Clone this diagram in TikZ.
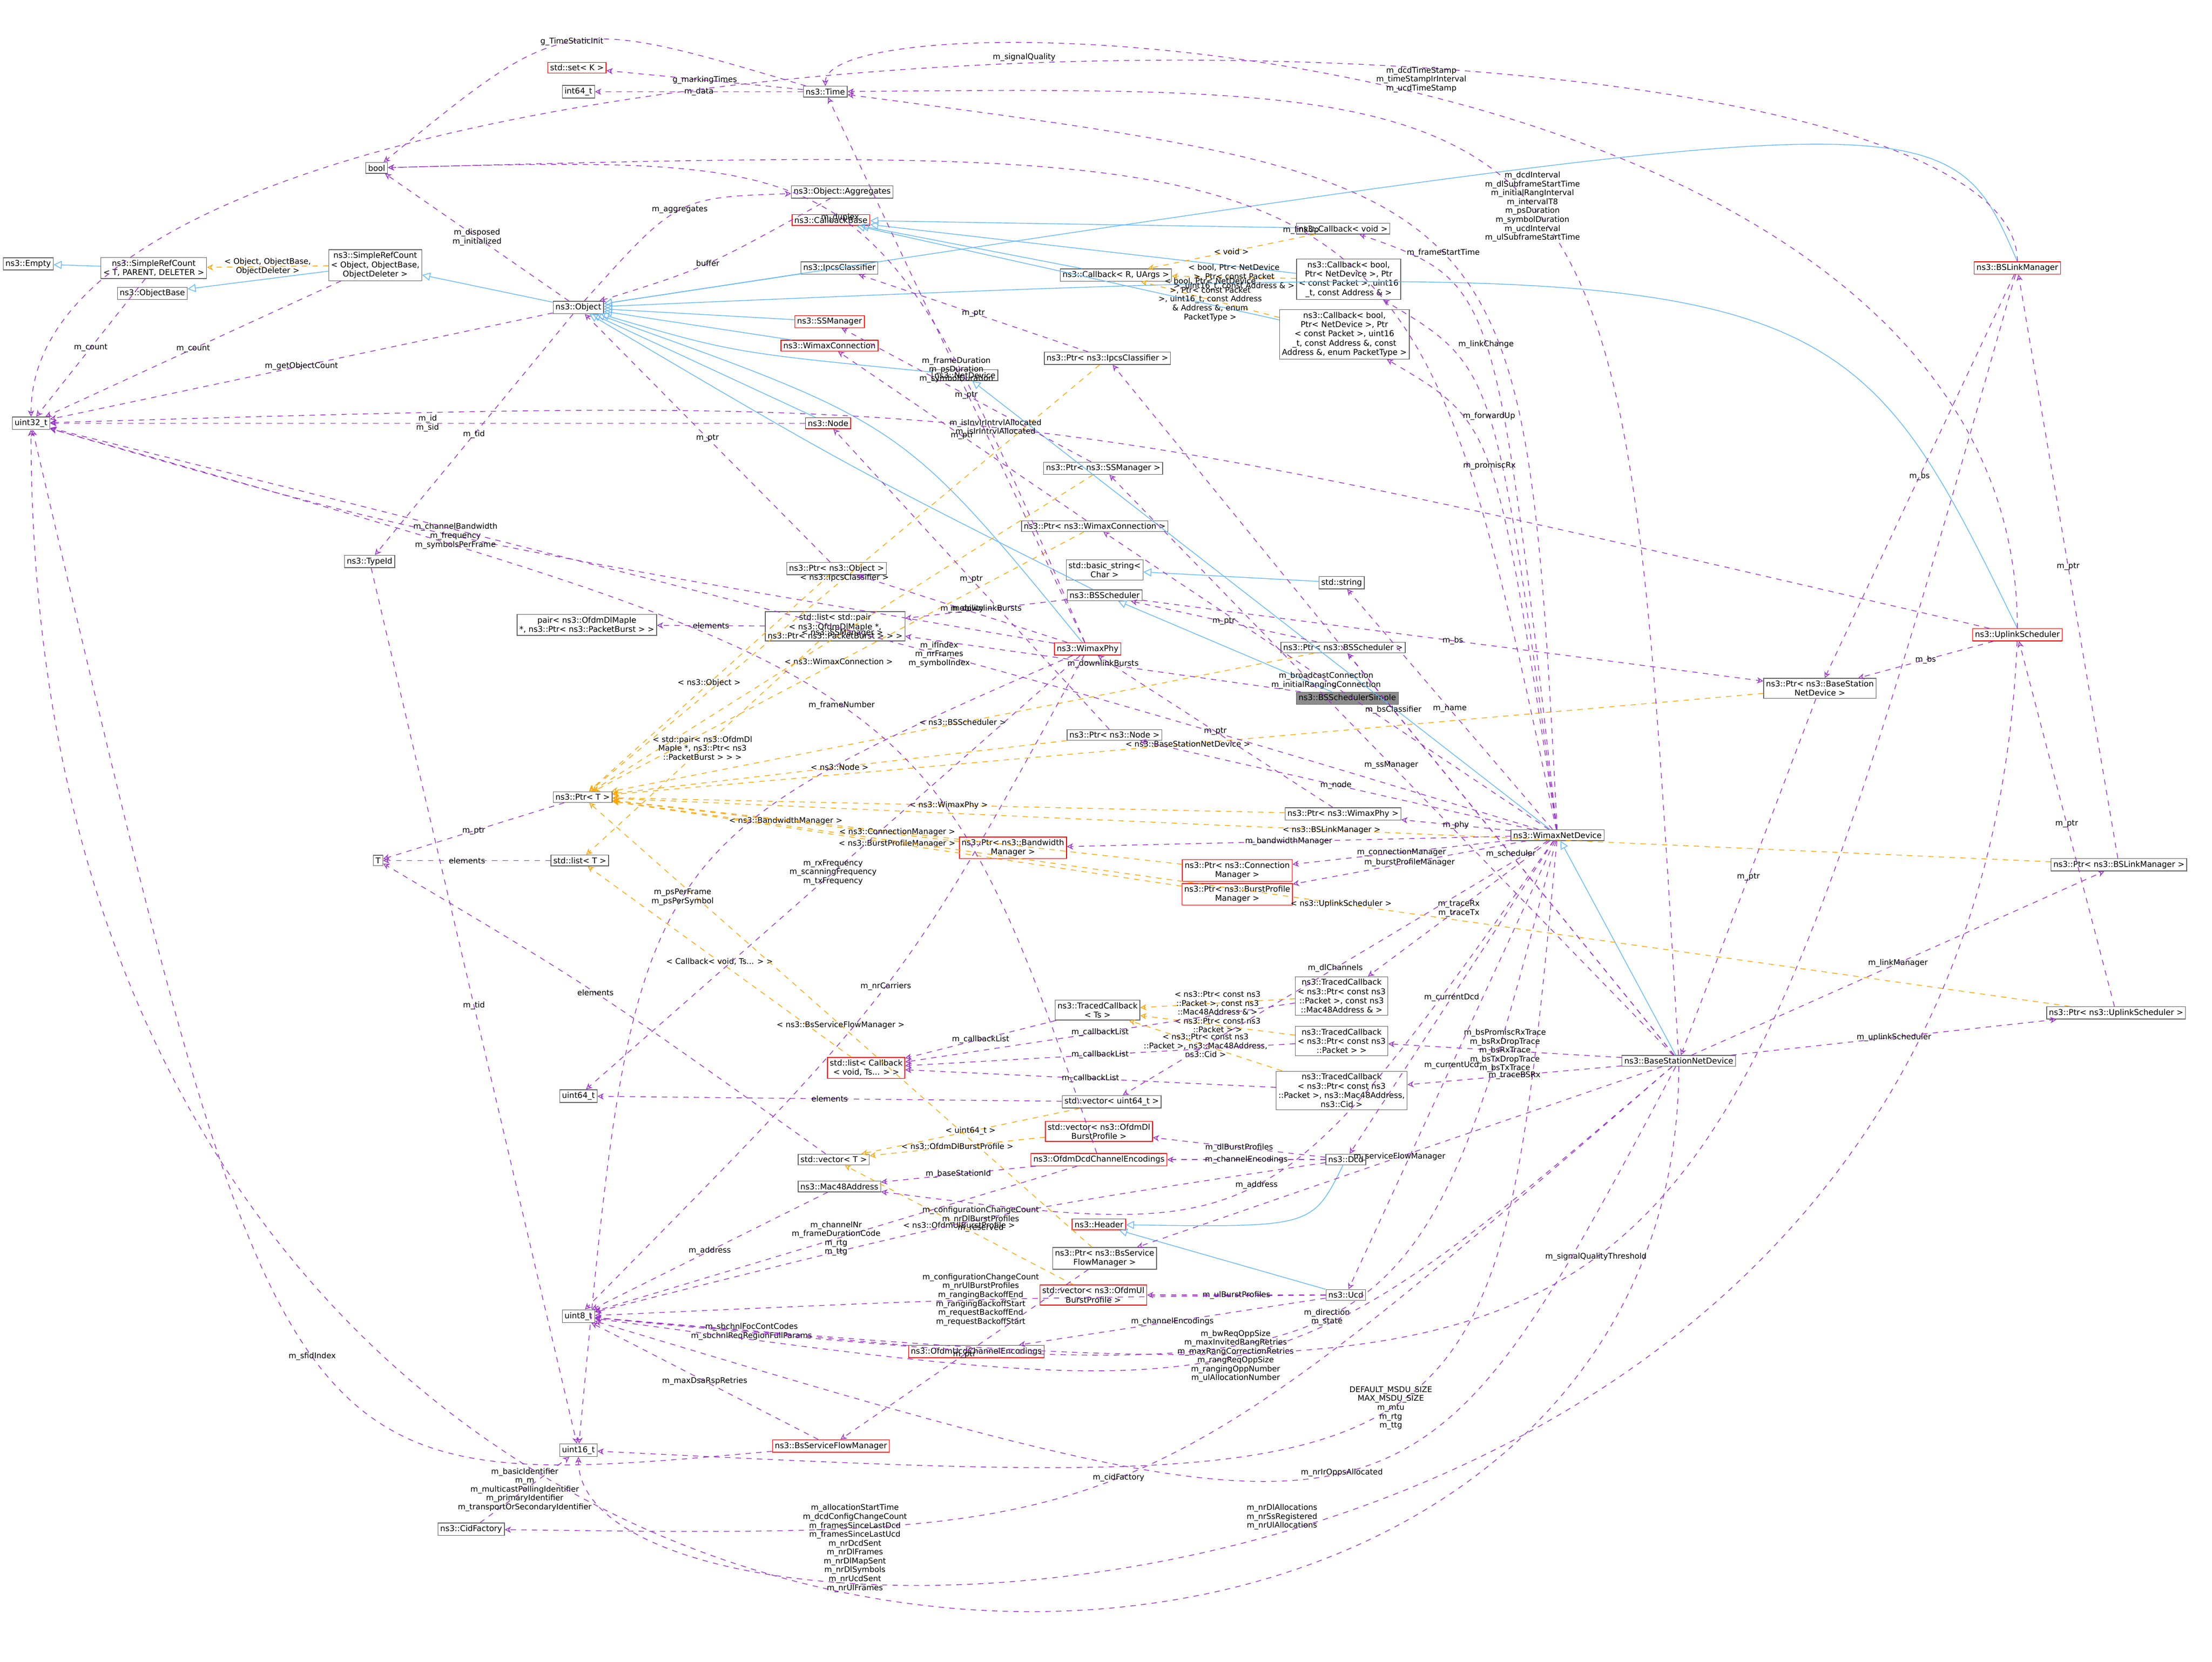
\documentclass[tikz,border=0pt]{standalone}
\usepackage{fontspec}
\setmainfont{DejaVu Sans}
\usetikzlibrary{arrows.meta}
\definecolor{usec}{HTML}{9A32CD}
\definecolor{inhc}{HTML}{63B8FF}
\definecolor{tplc}{HTML}{FFA500}
\tikzset{
 cls/.style={draw=black!60,fill=white,rectangle,inner sep=1.3pt,align=center,font=\fontsize{4.5}{5.2}\selectfont},
 redc/.style={cls,draw=red},
 use/.style={draw=usec,dashed,-{Stealth[open,length=3.5pt,width=3.5pt]}},
 inh/.style={draw=inhc,-{Triangle[open,length=4.5pt,width=4.5pt]}},
 tpl/.style={draw=tplc,dashed,-{Stealth[open,length=3.5pt,width=3.5pt]}},
 lbl/.style={align=center,font=\fontsize{4.4}{5}\selectfont,inner sep=1pt}
}
\newcommand\U[3]{\draw[use] (#1) -- node[lbl]{#3} (#2);}
\newcommand\UV[4]{\draw[use] (#1) .. controls (#2) .. node[lbl]{#4} (#3);}
\newcommand\UW[5]{\draw[use] (#1) .. controls (#2) and (#3) .. node[lbl,above]{#5} (#4);}
\newcommand\I[2]{\draw[inh] (#1) -- (#2);}
\newcommand\IV[3]{\draw[inh] (#1) .. controls (#2) .. (#3);}
\newcommand\Tp[3]{\draw[tpl] (#1) -- node[lbl]{#3} (#2);}
\begin{document}
\begin{tikzpicture}[x=0.0279cm,y=-0.0279cm]
\useasboundingbox[fill=white] (0,0) rectangle (1568,1178);
\node[cls] (empty) at (20,187) {ns3::Empty};
\node[cls] (srct) at (109,190) {ns3::SimpleRefCount\\< T, PARENT, DELETER >};
\node[cls] (objbase) at (108,208) {ns3::ObjectBase};
\node[cls] (srco) at (266,188) {ns3::SimpleRefCount\\< Object, ObjectBase,\\ ObjectDeleter >};
\node[cls] (bool) at (267,119) {bool};
\node[cls] (aggr) at (597,136) {ns3::Object::Aggregates};
\node[cls] (obj) at (410,218) {ns3::Object};
\node[cls] (time) at (585,65) {ns3::Time};
\node[redc] (set) at (409,48) {std::set< K >};
\node[cls] (i64) at (410,65) {int64\_t};
\node[redc] (cbb) at (589,156) {ns3::CallbackBase};
\node[cls] (ipcs) at (595,190) {ns3::IpcsClassifier};
\node[redc] (ssm) at (588,228) {ns3::SSManager};
\node[redc] (wcon) at (588,245) {ns3::WimaxConnection};
\node[cls] (netdev) at (684,266) {ns3::NetDevice};
\node[redc] (node) at (587,300) {ns3::Node};
\node[cls] (u32) at (22,300) {uint32\_t};
\node[cls] (tid) at (262,398) {ns3::TypeId};
\node[cls] (pobj) at (593,403) {ns3::Ptr< ns3::Object >};
\node[cls] (pair) at (416,443) {pair< ns3::OfdmDlMapIe\\ *, ns3::Ptr< ns3::PacketBurst > >};
\node[cls] (lpair) at (592,444) {std::list< std::pair\\ < ns3::OfdmDlMapIe *,\\ ns3::Ptr< ns3::PacketBurst > > >};
\node[cls] (ptrt) at (413,565) {ns3::Ptr< T >};
\node[cls] (T) at (268,610) {T};
\node[cls] (listt) at (411,610) {std::list< T >};
\node[cls] (u64) at (410,777) {uint64\_t};
\node[cls] (vect) at (591,822) {std::vector< T >};
\node[cls] (mac) at (595,841) {ns3::Mac48Address};
\node[cls] (u8) at (410,933) {uint8\_t};
\node[cls] (u16) at (410,1028) {uint16\_t};
\node[cls] (cidf) at (334,1084) {ns3::CidFactory};
\node[redc] (bssfm) at (589,1025) {ns3::BsServiceFlowManager};
\node[redc] (ucdenc) at (692,958) {ns3::OfdmUcdChannelEncodings};
\node[redc] (vul) at (775,918) {std::vector< ns3::OfdmUl\\ BurstProfile >};
\node[cls] (pbssfm) at (783,892) {ns3::Ptr< ns3::BsService\\ FlowManager >};
\node[redc] (hdr) at (779,868) {ns3::Header};
\node[redc] (dcdenc) at (779,822) {ns3::OfdmDcdChannelEncodings};
\node[redc] (vdl) at (779,802) {std::vector< ns3::OfdmDl\\ BurstProfile >};
\node[cls] (vu64) at (788,781) {std::vector< uint64\_t >};
\node[redc] (lcb) at (614,757) {std::list< Callback\\ < void, Ts... > >};
\node[cls] (tcts) at (778,716) {ns3::TracedCallback\\ < Ts >};
\node[redc] (pbw) at (718,601) {ns3::Ptr< ns3::Bandwidth\\ Manager >};
\node[redc] (pcm) at (877,617) {ns3::Ptr< ns3::Connection\\ Manager >};
\node[redc] (pbpm) at (877,634) {ns3::Ptr< ns3::BurstProfile\\ Manager >};
\node[redc] (phy) at (771,460) {ns3::WimaxPhy};
\node[cls] (pnode) at (790,521) {ns3::Ptr< ns3::Node >};
\node[cls] (bss) at (783,422) {ns3::BSScheduler};
\node[cls] (bstr) at (783,404) {std::basic\_string<\\ Char >};
\node[cls] (str) at (951,413) {std::string};
\node[cls] (pwcon) at (776,373) {ns3::Ptr< ns3::WimaxConnection >};
\node[cls] (pssm) at (782,332) {ns3::Ptr< ns3::SSManager >};
\node[cls] (pipcs) at (785,254) {ns3::Ptr< ns3::IpcsClassifier >};
\node[cls] (cbr) at (791,195) {ns3::Callback< R, UArgs >};
\node[cls] (cbv) at (952,162) {ns3::Callback< void >};
\node[cls] (cbb5) at (956,198) {ns3::Callback< bool,\\ Ptr< NetDevice >, Ptr\\ < const Packet >, uint16\\ \_t, const Address \& >};
\node[cls] (cbb7) at (953,237) {ns3::Callback< bool,\\ Ptr< NetDevice >, Ptr\\ < const Packet >, uint16\\ \_t, const Address \&, const\\ Address \&, enum PacketType >};
\node[cls,fill=black!45] (bsss) at (955,495) {ns3::BSSchedulerSimple};
\node[cls] (pbss) at (952,459) {ns3::Ptr< ns3::BSScheduler >};
\node[cls] (pphy) at (952,577) {ns3::Ptr< ns3::WimaxPhy >};
\node[cls] (wnd) at (1104,592) {ns3::WimaxNetDevice};
\node[cls] (tc1) at (951,706) {ns3::TracedCallback\\ < ns3::Ptr< const ns3\\ ::Packet >, const ns3\\ ::Mac48Address \& >};
\node[cls] (tc2) at (951,738) {ns3::TracedCallback\\ < ns3::Ptr< const ns3\\ ::Packet > >};
\node[cls] (tc3) at (951,773) {ns3::TracedCallback\\ < ns3::Ptr< const ns3\\ ::Packet >, ns3::Mac48Address,\\ ns3::Cid >};
\node[cls] (dcd) at (954,822) {ns3::Dcd};
\node[cls] (ucd) at (954,918) {ns3::Ucd};
\node[cls] (bsnd) at (1190,752) {ns3::BaseStationNetDevice};
\node[cls] (pbsnd) at (1290,488) {ns3::Ptr< ns3::BaseStation\\ NetDevice >};
\node[redc] (bslm) at (1430,190) {ns3::BSLinkManager};
\node[redc] (ulsch) at (1430,450) {ns3::UplinkScheduler};
\node[cls] (pbslm) at (1502,613) {ns3::Ptr< ns3::BSLinkManager >};
\node[cls] (pulsch) at (1500,718) {ns3::Ptr< ns3::UplinkScheduler >};
% inheritance
\I{srct}{empty}
\I{srco}{objbase}
\I{obj}{srco}
\I{cbv}{cbb}
\I{cbb5}{cbb}
\I{cbb7}{cbb}
\I{cbr}{cbb}
\I{ipcs}{obj}
\I{ssm}{obj}
\I{wcon}{obj}
\I{node}{obj}
\IV{netdev}{520,250}{obj}
\IV{phy}{640,300}{obj}
\IV{bss}{600,330}{obj}
\IV{bslm.north}{1380,70}{obj}
\IV{ulsch.north}{1300,180}{obj}
\I{wnd}{netdev}
\I{bsnd}{wnd}
\I{bsss}{bss}
\I{str}{bstr}
\IV{dcd}{930,870}{hdr}
\I{ucd}{hdr}
% templates
\Tp{srco}{srct}{< Object, ObjectBase,\\ ObjectDeleter >}
\Tp{cbv}{cbr}{< void >}
\Tp{cbb5}{cbr}{< bool, Ptr< NetDevice\\ >, Ptr< const Packet\\ >, uint16\_t, const Address \& >}
\Tp{cbb7}{cbr}{< bool, Ptr< NetDevice\\ >, Ptr< const Packet\\ >, uint16\_t, const Address\\ \& Address \&, enum\\ PacketType >}
\Tp{pipcs}{ptrt}{< ns3::IpcsClassifier >}
\Tp{pssm}{ptrt}{< ns3::SSManager >}
\Tp{pwcon}{ptrt}{< ns3::WimaxConnection >}
\Tp{pobj}{ptrt}{< ns3::Object >}
\Tp{lpair}{listt}{< std::pair< ns3::OfdmDl\\ MapIe *, ns3::Ptr< ns3\\ ::PacketBurst > > >}
\Tp{pbss}{ptrt}{< ns3::BSScheduler >}
\Tp{pnode}{ptrt}{< ns3::Node >}
\Tp{pphy}{ptrt}{< ns3::WimaxPhy >}
\Tp{pbw}{ptrt}{< ns3::BandwidthManager >}
\Tp{pcm}{ptrt}{< ns3::ConnectionManager >}
\Tp{pbpm}{ptrt}{< ns3::BurstProfileManager >}
\Tp{pbsnd}{ptrt}{< ns3::BaseStationNetDevice >}
\Tp{pulsch}{ptrt}{< ns3::UplinkScheduler >}
\Tp{pbslm}{ptrt}{< ns3::BSLinkManager >}
\Tp{lcb}{listt}{< Callback< void, Ts... > >}
\Tp{tc1}{tcts}{< ns3::Ptr< const ns3\\ ::Packet >, const ns3\\ ::Mac48Address \& >}
\Tp{tc2}{tcts}{< ns3::Ptr< const ns3\\ ::Packet > >}
\Tp{tc3}{tcts}{< ns3::Ptr< const ns3\\ ::Packet >, ns3::Mac48Address,\\ ns3::Cid >}
\Tp{vu64}{vect}{< uint64\_t >}
\Tp{vdl}{vect}{< ns3::OfdmDlBurstProfile >}
\Tp{vul}{vect}{< ns3::OfdmUlBurstProfile >}
\Tp{pbssfm}{ptrt}{< ns3::BsServiceFlowManager >}
% usage
\U{obj}{bool}{m\_disposed\\ m\_initialized}
\UV{obj}{480,140}{aggr}{m\_aggregates}
\UV{aggr}{500,190}{obj}{buffer}
\U{srct}{u32}{m\_count}
\U{srco}{u32}{m\_count}
\U{obj}{u32}{m\_getObjectCount}
\U{obj}{tid}{m\_tid}
\U{tid}{u16}{m\_tid}
\UV{time}{400,10}{bool}{g\_TimeStaticInit}
\U{time}{set}{g\_markingTimes}
\U{time}{i64}{m\_data}
\U{node}{u32}{m\_id\\ m\_sid}
\U{ptrt}{T}{m\_ptr}
\U{listt}{T}{elements}
\U{pobj}{obj}{m\_ptr}
\U{pipcs}{ipcs}{m\_ptr}
\U{pssm}{ssm}{m\_ptr}
\U{pwcon}{wcon}{m\_ptr}
\U{pnode}{node}{m\_ptr}
\U{pbss}{bss}{m\_ptr}
\U{pphy}{phy}{m\_ptr}
\U{pbsnd}{bsnd}{m\_ptr}
\U{pbslm}{bslm}{m\_ptr}
\U{pulsch}{ulsch}{m\_ptr}
\U{pbssfm}{bssfm}{m\_ptr}
\U{lpair}{pair}{elements}
\U{bss}{lpair}{m\_downlinkBursts}
\U{bsss}{lpair}{m\_downlinkBursts}
\U{phy}{pobj}{m\_mobility}
\UV{phy}{300,380}{u32}{m\_channelBandwidth\\ m\_frequency\\ m\_symbolsPerFrame}
\U{phy}{time}{m\_frameDuration\\ m\_psDuration\\ m\_symbolDuration}
\UV{phy}{450,600}{u16}{m\_psPerFrame\\ m\_psPerSymbol}
\U{phy}{u64}{m\_rxFrequency\\ m\_scanningFrequency\\ m\_txFrequency}
\UV{phy}{640,700}{u8}{m\_nrCarriers}
\UV{phy}{620,110}{bool}{m\_duplex}
\U{bss}{pbsnd}{m\_bs}
\U{tcts}{lcb}{m\_callbackList}
\U{tc1}{lcb}{m\_callbackList}
\U{tc2}{lcb}{m\_callbackList}
\U{tc3}{lcb}{m\_callbackList}
\U{vu64}{u64}{elements}
\U{mac}{u8}{m\_address}
\UV{vect}{420,700}{T}{elements}
\U{dcd}{vdl}{m\_dlBurstProfiles}
\U{dcd}{dcdenc}{m\_channelEncodings}
\UV{dcd}{700,860}{u8}{m\_configurationChangeCount\\ m\_nrDlBurstProfiles\\ m\_reserved}
\U{dcdenc}{mac}{m\_baseStationId}
\UV{dcdenc}{660,480}{u32}{m\_frameNumber}
\U{dcdenc}{u8}{m\_channelNr\\ m\_frameDurationCode\\ m\_rtg\\ m\_ttg}
\U{ucd}{vul}{m\_ulBurstProfiles}
\U{ucd}{ucdenc}{m\_channelEncodings}
\UV{ucd}{700,920}{u8}{m\_configurationChangeCount\\ m\_nrUlBurstProfiles\\ m\_rangingBackoffEnd\\ m\_rangingBackoffStart\\ m\_requestBackoffEnd\\ m\_requestBackoffStart}
\U{ucdenc}{u8}{m\_sbchnlFocContCodes\\ m\_sbchnlReqRegionFullParams}
\U{bssfm}{u8}{m\_maxDsaRspRetries}
\UV{bssfm}{200,1060}{u32}{m\_sfidIndex}
\U{cidf}{u16}{m\_basicIdentifier\\ m\_m\\ m\_multicastPollingIdentifier\\ m\_primaryIdentifier\\ m\_transportOrSecondaryIdentifier}
\U{wnd}{pphy}{m\_phy}
\U{wnd}{pnode}{m\_node}
\U{wnd}{pbw}{m\_bandwidthManager}
\U{wnd}{pcm}{m\_connectionManager}
\U{wnd}{pbpm}{m\_burstProfileManager}
\UV{wnd}{1080,130}{time}{m\_frameStartTime}
\UV{wnd}{1000,100}{bool}{m\_linkUp}
\UV{wnd}{1060,200}{cbv}{m\_linkChange}
\UV{wnd}{1060,260}{cbb5}{m\_forwardUp}
\UV{wnd}{1060,300}{cbb7}{m\_promiscRx}
\U{wnd}{pwcon}{m\_broadcastConnection\\ m\_initialRangingConnection}
\U{wnd}{str}{m\_name}
\U{wnd}{tc1}{m\_traceRx\\ m\_traceTx}
\U{wnd}{dcd}{m\_currentDcd}
\U{wnd}{ucd}{m\_currentUcd}
\U{wnd}{vu64}{m\_dlChannels}
\UV{wnd}{900,880}{mac}{m\_address}
\UV{wnd}{1000,990}{u8}{m\_direction\\ m\_state}
\UV{wnd}{1060,1060}{u16}{DEFAULT\_MSDU\_SIZE\\ MAX\_MSDU\_SIZE\\ m\_mtu\\ m\_rtg\\ m\_ttg}
\UV{wnd}{700,470}{u32}{m\_ifIndex\\ m\_nrFrames\\ m\_symbolIndex}
\U{bsnd}{pbss}{m\_scheduler}
\U{bsnd}{pbslm}{m\_linkManager}
\U{bsnd}{pulsch}{m\_uplinkScheduler}
\U{bsnd}{pbssfm}{m\_serviceFlowManager}
\UV{bsnd}{800,1090}{cidf}{m\_cidFactory}
\U{bsnd}{tc2}{m\_bsPromiscRxTrace\\ m\_bsRxDropTrace\\ m\_bsRxTrace\\ m\_bsTxDropTrace\\ m\_bsTxTrace}
\U{bsnd}{tc3}{m\_traceBSRx}
\UV{bsnd}{1150,60}{time}{m\_dcdInterval\\ m\_dlSubframeStartTime\\ m\_initialRangInterval\\ m\_intervalT8\\ m\_psDuration\\ m\_symbolDuration\\ m\_ucdInterval\\ m\_ulSubframeStartTime}
\U{bsnd}{pipcs}{m\_bsClassifier}
\U{bsnd}{pssm}{m\_ssManager}
\UV{bsnd}{900,1000}{u8}{m\_bwReqOppSize\\ m\_maxInvitedRangRetries\\ m\_maxRangCorrectionRetries\\ m\_rangReqOppSize\\ m\_rangingOppNumber\\ m\_ulAllocationNumber}
\UW{bsnd}{1190,1330}{22,1330}{u32}{m\_allocationStartTime\\ m\_dcdConfigChangeCount\\ m\_framesSinceLastDcd\\ m\_framesSinceLastUcd\\ m\_nrDcdSent\\ m\_nrDlFrames\\ m\_nrDlMapSent\\ m\_nrDlSymbols\\ m\_nrUcdSent\\ m\_nrUlFrames}
\UW{ulsch}{1400,1200}{410,1200}{u16}{m\_nrDlAllocations\\ m\_nrSsRegistered\\ m\_nrUlAllocations}
\U{bslm}{pbsnd}{m\_bs}
\UW{bslm}{1430,-20}{22,-20}{u32}{m\_signalQuality}
\UV{bslm}{1200,1000}{u8}{m\_signalQualityThreshold}
\U{ulsch}{pbsnd}{m\_bs}
\UW{ulsch}{1430,20}{585,-10}{time}{m\_dcdTimeStamp\\ m\_timeStampIrInterval\\ m\_ucdTimeStamp}
\UV{ulsch}{700,280}{u32}{m\_isInvIrIntrvlAllocated\\ m\_isIrIntrvlAllocated}
\UV{bsnd}{1000,1110}{u8}{m\_nrIrOppsAllocated}
\end{tikzpicture}
\end{document}
